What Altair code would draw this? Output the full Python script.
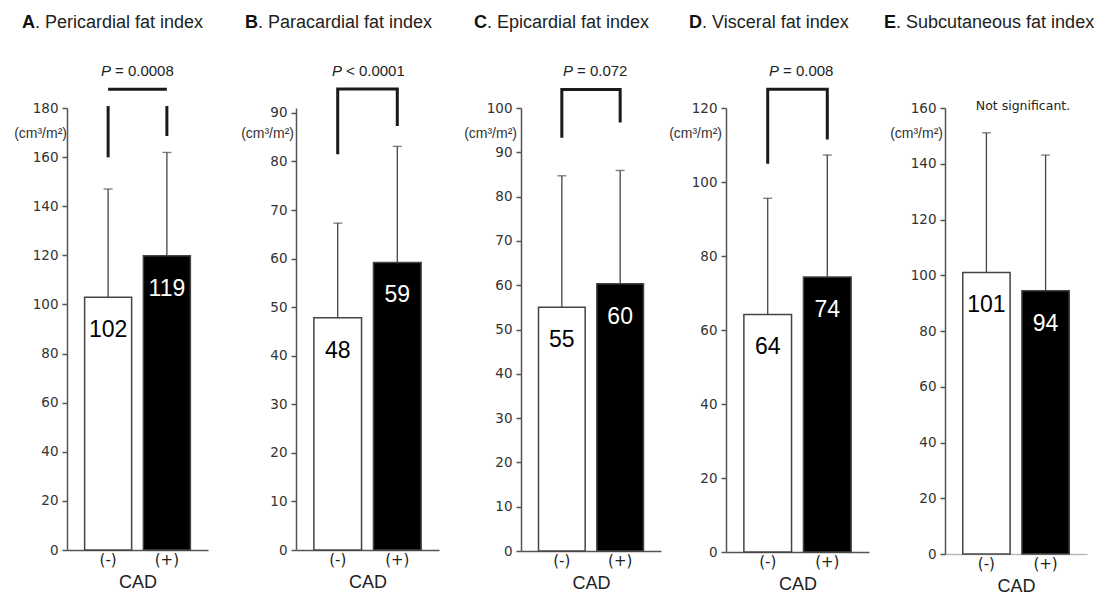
import altair as alt
import pandas as pd

# ---------------- data ----------------
panel_letters = ["A", "B", "C", "D", "E"]
panel_names = [". Pericardial fat index", ". Paracardial fat index",
               ". Epicardial fat index", ". Visceral fat index",
               ". Subcutaneous fat index"]
groups = ["(-)", "(+)"]
means_neg = [102.9, 47.8, 55.0, 64.2, 101.0]
means_pos = [119.8, 59.2, 60.3, 74.3, 94.4]
upper_neg = [147.0, 67.3, 84.7, 95.6, 151.1]
upper_pos = [161.9, 83.1, 85.9, 107.3, 143.1]
labels_neg = ["102", "48", "55", "64", "101"]
labels_pos = ["119", "59", "60", "74", "94"]
p_symbol = ["P", "P", "P", "P", ""]
p_rest = ["= 0.0008", "< 0.0001", "= 0.072", "= 0.008", ""]
note_text = ["", "", "", "", "Not significant."]
bracket_bar = [187.6, 94.9, 104.2, 125.1, None]
bracket_legs_top = [180.8, 94.9, 104.2, 125.1, None]
bracket_left_low = [159.9, 81.5, 93.3, 104.9, None]
bracket_right_low = [168.6, 87.3, 96.7, 111.5, None]
y_max = [180, 90, 100, 120, 160]
y_step = [20, 10, 10, 20, 20]
unit_text = "(cm³/m²)"
x_title = "CAD"

# ---------------- layout / style (not data) ----------------
widths = [141, 143, 140, 143, 142]
heights = [442, 442, 443, 444, 446]
domain_top = [180, 91, 100, 120, 160]
title_split = [-32, -38, -34, -24, -49]
p_split = [44, 46, 52, 53, 0]
unit_right = [0, -2, -4, -4, -2]
xaxis_color = ["#555", "#555", "#555", "#555", "#bbb"]
spacings = [88, 82, 65, 76]

FONT_SANS = "Liberation Sans"
FONT_AX = "DejaVu Sans"


def panel(i):
    bars = pd.DataFrame({
        "cad": groups,
        "mean": [means_neg[i], means_pos[i]],
        "upper": [upper_neg[i], upper_pos[i]],
        "label": [labels_neg[i], labels_pos[i]],
        "fillc": ["white", "black"],
        "txtc": ["black", "white"],
    })

    xs = alt.Scale(type="band", domain=groups, paddingInner=0.2, paddingOuter=0.3)
    x_enc = alt.X("cad:N", scale=xs, sort=groups,
                  axis=alt.Axis(title=x_title, labelAngle=0, ticks=False,
                                domainColor=xaxis_color[i], domainWidth=1.5,
                                labelFont=FONT_AX, labelFontSize=15, labelColor="#222",
                                labelPadding=2, titleFont=FONT_SANS, titleFontSize=18,
                                titleFontWeight="normal", titleColor="#222",
                                titlePadding=6))
    ys = alt.Scale(domain=[0, domain_top[i]], nice=False, zero=True)
    yaxis = alt.Axis(values=list(range(0, y_max[i] + 1, y_step[i])), title=None,
                     grid=False, labelFont=FONT_AX, labelFontSize=13.5,
                     labelColor="#333", domainColor="#555", domainWidth=1.5,
                     tickColor="#555", tickWidth=1.5, tickSize=5, labelPadding=4)

    def Y(field):
        return alt.Y(field, scale=ys, axis=yaxis)

    base = alt.Chart(bars)
    bar = base.mark_bar(stroke="#444", strokeWidth=1.5).encode(
        x=x_enc, y=Y("mean:Q"), fill=alt.Fill("fillc:N", scale=None))
    err = base.mark_rule(color="#444", strokeWidth=1.3).encode(
        x=x_enc, y=Y("mean:Q"), y2="upper:Q")
    cap = base.mark_tick(color="#444", thickness=1.3, size=9, orient="horizontal").encode(
        x=x_enc, y=Y("upper:Q"))
    vals = base.mark_text(font=FONT_SANS, fontSize=23, baseline="middle", dy=33).encode(
        x=x_enc, y=Y("mean:Q"), text="label:N", color=alt.Color("txtc:N", scale=None))

    layers = [bar, err, cap, vals]

    if bracket_bar[i] is not None:
        if bracket_legs_top[i] == bracket_bar[i]:
            pts = pd.DataFrame({
                "cad": [groups[0], groups[0], groups[1], groups[1]],
                "v": [bracket_left_low[i], bracket_bar[i], bracket_bar[i], bracket_right_low[i]],
                "seg": [0, 0, 0, 0],
                "o": [0, 1, 2, 3],
            })
        else:
            pts = pd.DataFrame({
                "cad": [groups[0], groups[0], groups[1], groups[1], groups[0], groups[1]],
                "v": [bracket_legs_top[i], bracket_left_low[i],
                      bracket_legs_top[i], bracket_right_low[i],
                      bracket_bar[i], bracket_bar[i]],
                "seg": [0, 0, 1, 1, 2, 2],
                "o": [0, 1, 0, 1, 0, 1],
            })
        br = alt.Chart(pts).mark_line(color="#1a1a1a", strokeWidth=3, strokeCap="butt",
                                      strokeJoin="miter", clip=False).encode(
            x=x_enc, y=Y("v:Q"), detail="seg:N", order="o:Q")
        layers.append(br)
        psym = alt.Chart(pd.DataFrame({"t": [p_symbol[i]]})).mark_text(
            font=FONT_SANS, fontSize=15, fontStyle="italic", align="right",
            baseline="alphabetic", color="#222").encode(
            text="t:N", x=alt.value(p_split[i]), y=alt.value(-32))
        prest = alt.Chart(pd.DataFrame({"t": [p_rest[i]]})).mark_text(
            font=FONT_SANS, fontSize=15, align="left",
            baseline="alphabetic", color="#222").encode(
            text="t:N", x=alt.value(p_split[i] + 4), y=alt.value(-32))
        layers += [psym, prest]

    if note_text[i]:
        note = alt.Chart(pd.DataFrame({"t": [note_text[i]]})).mark_text(
            font=FONT_AX, fontSize=12.5, align="center", baseline="alphabetic",
            color="#222").encode(text="t:N", x=alt.value(78), y=alt.value(2))
        layers.append(note)

    letter = alt.Chart(pd.DataFrame({"t": [panel_letters[i]]})).mark_text(
        font=FONT_SANS, fontSize=18, fontWeight="bold", align="right",
        baseline="alphabetic", color="#111").encode(
        text="t:N", x=alt.value(title_split[i]), y=alt.value(-80))
    name = alt.Chart(pd.DataFrame({"t": [panel_names[i]]})).mark_text(
        font=FONT_SANS, fontSize=18, align="left",
        baseline="alphabetic", color="#222").encode(
        text="t:N", x=alt.value(title_split[i]), y=alt.value(-80))
    unit = alt.Chart(pd.DataFrame({"t": [unit_text]})).mark_text(
        font=FONT_SANS, fontSize=14, align="right",
        baseline="alphabetic", color="#333").encode(
        text="t:N", x=alt.value(unit_right[i]), y=alt.value(30))
    layers += [letter, name, unit]

    return alt.layer(*layers).properties(width=widths[i], height=heights[i])


p = [panel(i) for i in range(5)]

inner = alt.hconcat(p[3], p[4], spacing=spacings[3], bounds="flush")
inner = alt.hconcat(p[2], inner, spacing=spacings[2], bounds="flush")
inner = alt.hconcat(p[1], inner, spacing=spacings[1], bounds="flush")
chart = alt.hconcat(p[0], inner, spacing=spacings[0], bounds="flush").properties(
    padding={"left": 14, "top": 14, "right": 0, "bottom": 0},
    background="white",
).configure_view(strokeWidth=0)

chart.save("out.html", embed_options={"renderer": "svg", "actions": False})
